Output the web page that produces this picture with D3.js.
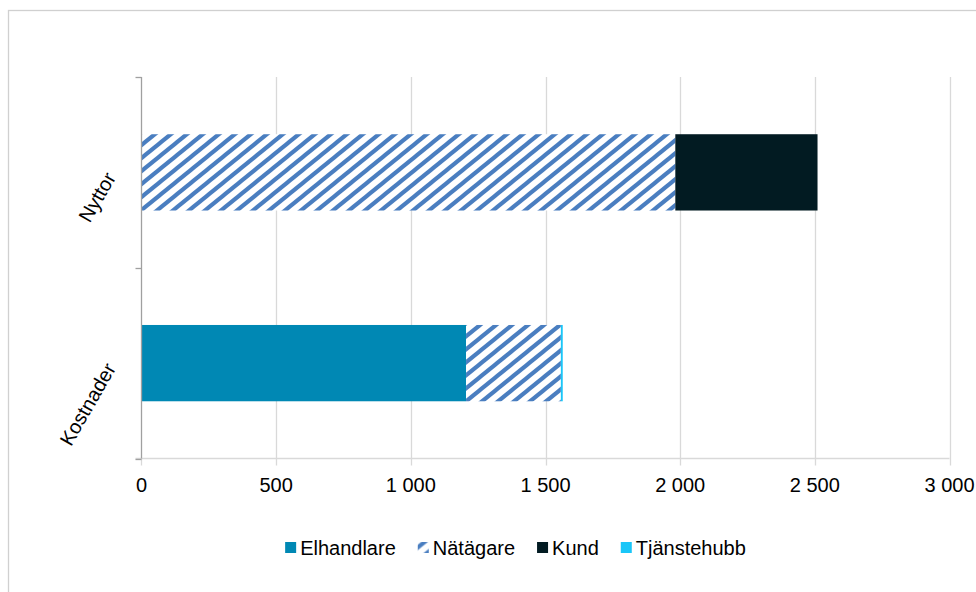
<!DOCTYPE html>
<html>
<head>
<meta charset="utf-8">
<script src="https://cdn.jsdelivr.net/npm/d3@7"></script>
<style>
  html, body { margin: 0; padding: 0; background: #fff; }
  svg { display: block; }
</style>
</head>
<body>
<svg id="chart" width="976" height="592"></svg>
<script>
const categories = ["Nyttor", "Kostnader"];
const seriesNames = ["Elhandlare", "Nätägare", "Kund", "Tjänstehubb"];
const elhandlare = [0, 1205];
const natagare = [1982, 352];
const kund = [528, 0];
const tjanstehubb = [0, 7];
const xTicks = [0, 500, 1000, 1500, 2000, 2500, 3000];

const colors = {
  "Elhandlare": "#0088b4",
  "Nätägare": "url(#hatch)",
  "Kund": "#021b22",
  "Tjänstehubb": "#1ac6f8"
};

const rows = categories.map((c, i) => ({
  cat: c,
  "Elhandlare": elhandlare[i],
  "Nätägare": natagare[i],
  "Kund": kund[i],
  "Tjänstehubb": tjanstehubb[i]
}));

const svg = d3.select("#chart");
const defs = svg.append("defs");
const PW = 16, PH = 13;
const pat = defs.append("pattern")
  .attr("id", "hatch").attr("patternUnits", "userSpaceOnUse")
  .attr("width", PW).attr("height", PH);
pat.append("rect").attr("width", PW).attr("height", PH).attr("fill", "#fff");
[0, PH, 2 * PH].forEach(b => {
  pat.append("line")
    .attr("x1", -PW).attr("y1", b + PH)
    .attr("x2", 2 * PW).attr("y2", b - 2 * PH)
    .attr("stroke", "#4a7ec0").attr("stroke-width", 4.1);
});

// outer border
svg.append("rect").attr("x", 8.5).attr("y", 10.5).attr("width", 1000).attr("height", 700)
  .attr("fill", "none").attr("stroke", "#d0d0d0").attr("stroke-width", 1.3);

const pLeft = 141.5, pRight = 949.5, pTop = 77, pBottom = 458.5;
const x = d3.scaleLinear().domain([0, 3000]).range([pLeft, pRight]);
const y = d3.scaleBand().domain(categories).range([pTop, pBottom]).paddingInner(0.6).paddingOuter(0.3);
const yCat = d3.scaleBand().domain(categories).range([pTop, pBottom]).padding(0);

const loc = d3.formatLocale({ decimal: ",", thousands: "\u00a0", grouping: [3], currency: ["", " kr"] });
const fmt = loc.format(",d");

// gridlines
svg.append("g").selectAll("line").data(xTicks.slice(1)).join("line")
  .attr("x1", d => Math.round(x(d)) + 0.5).attr("x2", d => Math.round(x(d)) + 0.5)
  .attr("y1", pTop).attr("y2", pBottom + 7)
  .attr("stroke", "#d9d9d9").attr("stroke-width", 1.3);

// bottom axis line
svg.append("line").attr("x1", pLeft - 6).attr("x2", pRight).attr("y1", pBottom).attr("y2", pBottom)
  .attr("stroke", "#d9d9d9").attr("stroke-width", 1.3);
svg.append("line").attr("x1", pLeft).attr("x2", pLeft).attr("y1", pBottom).attr("y2", pBottom + 7)
  .attr("stroke", "#d9d9d9").attr("stroke-width", 1.3);

// bars
const stack = d3.stack().keys(seriesNames)(rows);
svg.append("g").selectAll("g").data(stack).join("g")
  .attr("fill", d => colors[d.key])
  .selectAll("rect").data(d => d).join("rect")
  .attr("x", d => x(d[0]))
  .attr("width", d => Math.max(0, x(d[1]) - x(d[0])))
  .attr("y", d => y(d.data.cat))
  .attr("height", y.bandwidth());

// category axis
const catBounds = [pTop, pTop + yCat.step(), pBottom];
svg.append("line").attr("x1", pLeft).attr("x2", pLeft).attr("y1", pTop).attr("y2", pBottom)
  .attr("stroke", "#a0a0a0").attr("stroke-width", 1.3);
svg.append("g").selectAll("line").data(catBounds).join("line")
  .attr("x1", pLeft - 6).attr("x2", pLeft).attr("y1", d => Math.round(d) + 0.5).attr("y2", d => Math.round(d) + 0.5)
  .attr("stroke", "#a0a0a0").attr("stroke-width", 1.3);

svg.append("g").selectAll("text").data(categories).join("text")
  .attr("transform", d => `translate(104,${yCat(d) + yCat.bandwidth() / 2 - 2}) rotate(-60)`)
  .attr("text-anchor", "end")
  .attr("dy", "0.72em")
  .attr("font-family", "Liberation Sans, Arial, sans-serif")
  .attr("font-size", 20)
  .attr("fill", "#000")
  .text(d => d);

// x tick labels
svg.append("g").selectAll("text").data(xTicks).join("text")
  .attr("x", d => x(d)).attr("y", 492)
  .attr("text-anchor", "middle")
  .attr("font-family", "Liberation Sans, Arial, sans-serif")
  .attr("font-size", 20)
  .attr("fill", "#000")
  .text(d => fmt(d));

// legend
const leg = svg.append("g");
const items = leg.selectAll("g").data(seriesNames).join("g");
items.append("rect").attr("width", 11).attr("height", 11).attr("y", -5.5)
  .attr("fill", d => colors[d]);
items.append("text").attr("x", 15).attr("y", 0).attr("dy", "0.35em")
  .attr("font-family", "Liberation Sans, Arial, sans-serif")
  .attr("font-size", 20).attr("fill", "#000")
  .text(d => d);
let cx = 0;
const pos = [];
items.each(function () {
  const w = 15 + d3.select(this).select("text").node().getComputedTextLength();
  pos.push(cx);
  cx += w + 22;
});
const total = cx - 22;
const startX = 515.5 - total / 2;
items.attr("transform", (d, i) => `translate(${startX + pos[i]},547.5)`);
</script>
</body>
</html>
